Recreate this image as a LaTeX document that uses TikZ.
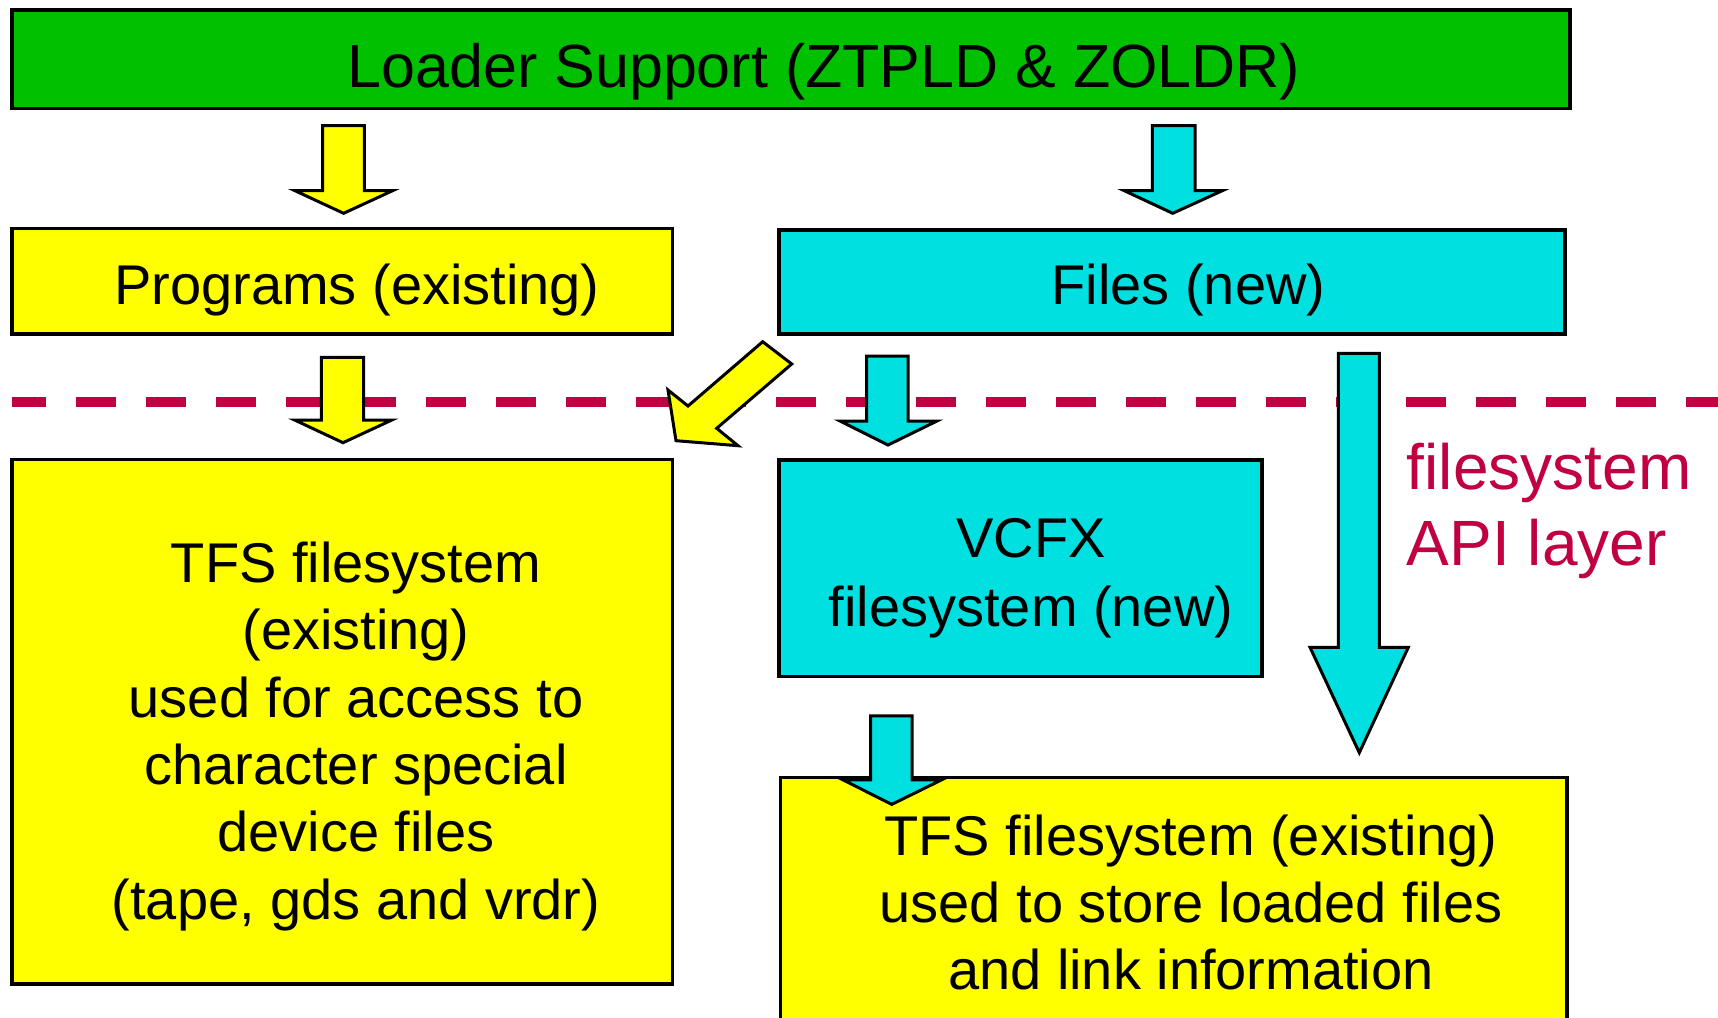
\documentclass[tikz,border=0pt]{standalone}
\usepackage{fontspec}
\setmainfont{Liberation Sans}
\definecolor{lgreen}{RGB}{0,192,0}
\definecolor{lyellow}{RGB}{255,255,0}
\definecolor{lcyan}{RGB}{0,224,224}
\definecolor{lcrimson}{RGB}{192,0,64}
\tikzset{
  box/.style={draw=black, line width=3.5pt, anchor=north west, inner sep=0pt, outer sep=0pt},
  blockarrow/.style={draw=black, line width=3pt, line join=miter},
  lbl/.style={font=\fontsize{56}{67}\selectfont, inner sep=0pt, anchor=base},
  biglbl/.style={font=\fontsize{61}{73}\selectfont, inner sep=0pt, anchor=base},
  apilbl/.style={font=\fontsize{64}{76}\selectfont, text=lcrimson, inner sep=0pt, anchor=base west},
  dashline/.style={draw=lcrimson, line width=10pt, dash pattern=on 40pt off 30pt, dash phase=6pt}
}
% down block arrow: fill, shaft left, shaft right, top, head y, barb left, barb right, tip x, tip y
\newcommand\dnblock[9]{%
  \path[blockarrow, fill=#1] (#2,#4) -- (#3,#4) -- (#3,#5) -- (#7,#5) -- (#8,#9) -- (#6,#5) -- (#2,#5) -- cycle;}
\begin{document}
\begin{tikzpicture}[x=1pt, y=-1pt]
\useasboundingbox (0,0) rectangle (1718,1017);
\clip (0,0) rectangle (1718,1017);

% separating dashed line
\coordinate (dashL) at (12,401.5);
\coordinate (dashR) at (1718,401.5);
\draw[dashline] (dashL) -- (dashR);

% boxes
\node[box, fill=lgreen, minimum width=1558pt, minimum height=98.7pt] (loader) at (12,10) {};
\node[box, fill=lyellow, minimum width=660.7pt, minimum height=105.3pt] (programs) at (12,228.7) {};
\node[box, fill=lcyan, minimum width=786pt, minimum height=104pt] (files) at (779,230) {};
\node[box, fill=lyellow, minimum width=660.7pt, minimum height=524.7pt] (tfsleft) at (12,459.3) {};
\node[box, fill=lcyan, minimum width=483pt, minimum height=216.7pt] (vcfx) at (779,460) {};
\node[box, fill=lyellow, minimum width=786.4pt, minimum height=320pt] (tfsright) at (780.6,777.3) {};

% block arrows
\dnblock{lyellow}{322.5}{364.3}{125.7}{190.7}{295}{392.6}{343.6}{213.3}
\dnblock{lcyan}{1152.3}{1195}{125.7}{190.7}{1124.3}{1222.3}{1172.7}{213.3}
\dnblock{lyellow}{321.4}{363.6}{357.3}{420}{294.6}{391.9}{343}{442.7}
\dnblock{lcyan}{866.7}{908}{356}{421}{840}{937}{888}{445}
\dnblock{lcyan}{1338.3}{1379.3}{353.3}{647.3}{1310}{1408.3}{1359.3}{752.7}
\dnblock{lcyan}{870.7}{912.2}{715.8}{779.8}{842.9}{941.7}{891.7}{804.4}
\path[blockarrow, fill=lyellow] (762.7,341.7) -- (791.7,364) -- (716.7,428.3) -- (738,445.7)
  -- (676,440.7) -- (668,390) -- (688,406) -- cycle;

% texts
\node[biglbl] (tloader) at (824,87.3) {Loader Support (ZTPLD \& ZOLDR)};
\node[lbl] (tprog) at (357,304) {Programs (existing)};
\node[lbl] (tfiles) at (1188.5,304) {Files (new)};

\node[lbl] (tl1) at (356,582) {TFS filesystem};
\node[lbl] (tl2) at (356,649.5) {(existing)};
\node[lbl] (tl3) at (356,717) {used for access to};
\node[lbl] (tl4) at (356,784.4) {character special};
\node[lbl] (tl5) at (356,851.8) {device files};
\node[lbl] (tl6) at (356,919.2) {(tape, gds and vrdr)};

\node[lbl] (tv1) at (1031,557.8) {VCFX};
\node[lbl] (tv2) at (1031,626) {filesystem (new)};

\node[lbl] (tr1) at (1191,855.8) {TFS filesystem (existing)};
\node[lbl] (tr2) at (1191,922.6) {used to store loaded files};
\node[lbl] (tr3) at (1191,989.6) {and link information};

\node[apilbl] (api1) at (1406.7,489.3) {filesystem};
\node[apilbl] (api2) at (1406.7,565.3) {API layer};
\end{tikzpicture}
\end{document}
